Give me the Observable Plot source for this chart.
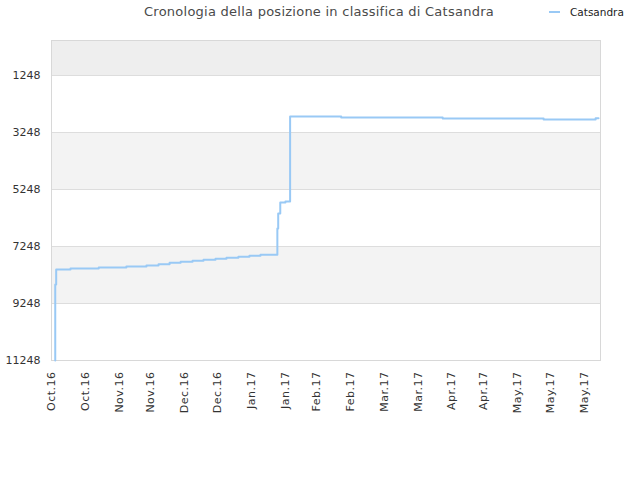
<!DOCTYPE html>
<html>
<head>
<meta charset="utf-8">
<script src="https://cdn.jsdelivr.net/npm/d3@7"></script>
<script src="https://cdn.jsdelivr.net/npm/@observablehq/plot@0.6"></script>
<style>
  body { margin: 0; background: #fff; font-family: "DejaVu Sans", sans-serif; }
  #wrap { width: 640px; height: 480px; position: relative; }
  #header { position: relative; width: 640px; height: 30px; }
  #title { position: absolute; left: 0; width: 638px; top: 4px; text-align: center; font-size: 13px; letter-spacing: 0.25px; color: #4a4a4a; }
  #legend { position: absolute; left: 549px; top: 6px; font-size: 10.5px; color: #222; display: flex; align-items: center; }
  #legend .sw { width: 11px; height: 2px; background: #99c9f5; margin-right: 10px; }
  #chart svg g[aria-label="x-axis tick label"] text { letter-spacing: 0.5px; }
</style>
</head>
<body>
<div id="wrap">
  <div id="header">
    <div id="title">Cronologia della posizione in classifica di Catsandra</div>
    <div id="legend"><span class="sw"></span><span id="legendText"></span></div>
  </div>
  <div id="chart"></div>
</div>
<script>
// ---- data ----
const seriesName = "Catsandra";
const dates = [
  "2016-10-07T16:00Z", "2016-10-07T16:00Z", "2016-10-08T02:00Z", "2016-10-14T11:00Z",
  "2016-10-27T00:00Z", "2016-11-08T07:00Z", "2016-11-17T05:00Z", "2016-11-22T14:00Z",
  "2016-11-27T12:00Z", "2016-12-02T10:00Z", "2016-12-07T17:00Z", "2016-12-12T14:00Z",
  "2016-12-17T22:00Z", "2016-12-22T19:00Z", "2016-12-28T02:00Z", "2017-01-02T00:00Z",
  "2017-01-06T22:00Z", "2017-01-14T10:00Z", "2017-01-14T19:00Z", "2017-01-15T17:00Z",
  "2017-01-18T00:00Z", "2017-01-20T02:00Z", "2017-02-11T19:00Z", "2017-03-28T22:00Z",
  "2017-05-12T19:00Z", "2017-06-04T22:00Z", "2017-06-06T05:00Z"
];
const ranks = [
  11248, 8582, 8055, 8020,
  7985, 7950, 7915, 7869,
  7820, 7785, 7750, 7715,
  7680, 7645, 7610, 7575,
  7540, 6617, 6090, 5704,
  5669, 2687, 2722, 2757,
  2792, 2746, 2746
];
const xDomain = ["2016-10-06T00:00Z", "2017-06-07T02:00Z"];
const xTickDates = [
  "2016-10-06", "2016-10-21", "2016-11-05", "2016-11-19", "2016-12-04", "2016-12-19",
  "2017-01-03", "2017-01-18", "2017-02-01", "2017-02-16", "2017-03-03", "2017-03-18",
  "2017-04-02", "2017-04-16", "2017-05-01", "2017-05-16", "2017-05-31"
];
const yTicks = [1248, 3248, 5248, 7248, 9248, 11248];
const yTop = 20;

// ---- build ----
document.getElementById("legendText").textContent = seriesName;
const data = dates.map((d, i) => ({date: new Date(d), rank: ranks[i]}));

const bands = [{y1: yTop, y2: yTicks[0], fill: "#eeeeee"}];
for (let i = 1; i + 1 < yTicks.length; i += 2) bands.push({y1: yTicks[i], y2: yTicks[i + 1], fill: "#f3f3f3"});

const fmt = d3.utcFormat("%b.%y");

const chart = Plot.plot({
  width: 640,
  height: 450,
  marginTop: 10,
  marginBottom: 120,
  marginLeft: 51,
  marginRight: 40,
  style: {fontFamily: "DejaVu Sans, sans-serif", fontSize: "11px", color: "#333", background: "#fff"},
  x: {type: "utc", domain: xDomain.map(d => new Date(d)), ticks: xTickDates.map(d => new Date(d)),
      tickFormat: fmt, tickRotate: -90, tickSize: 0, tickPadding: 11, label: null},
  y: {domain: [yTicks[yTicks.length - 1], yTop], ticks: yTicks, tickSize: 0, tickPadding: 11,
      tickFormat: d => String(d), label: null},
  marks: [
    Plot.rectY(bands, {x1: () => new Date(xDomain[0]), x2: () => new Date(xDomain[1]), y1: "y1", y2: "y2", fill: "fill"}),
    Plot.ruleY(yTicks, {stroke: "#dddddd", strokeWidth: 1}),
    Plot.frame({stroke: "#d8d8d8"}),
    Plot.line(data, {x: "date", y: "rank", curve: "step-after", stroke: "#99c9f5", strokeWidth: 2})
  ]
});
document.getElementById("chart").appendChild(chart);
</script>
</body>
</html>
